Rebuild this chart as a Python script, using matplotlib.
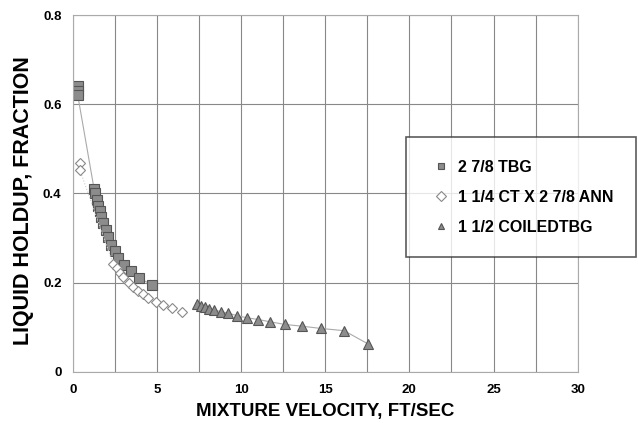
import matplotlib.pyplot as plt
from matplotlib.ticker import MultipleLocator

plt.rcParams['font.family'] = ['Liberation Sans', 'DejaVu Sans']
plt.rcParams['font.weight'] = 'bold'

# 2 7/8 TBG
tbg_x = [0.3, 0.3, 0.3, 1.27, 1.33, 1.42, 1.5, 1.6, 1.7, 1.82, 1.97, 2.12, 2.3, 2.5,
         2.72, 3.05, 3.45, 3.95, 4.7]
tbg_y = [0.64, 0.63, 0.62, 0.41, 0.40, 0.385, 0.372, 0.36, 0.347, 0.333, 0.318, 0.302,
         0.285, 0.27, 0.255, 0.24, 0.225, 0.21, 0.195]

# 1 1/4 CT X 2 7/8 ANN
ann_x = [0.43, 0.43, 2.41, 2.61, 2.81, 3.01, 3.36, 3.6, 3.9, 4.16, 4.49, 4.95, 5.38, 5.88, 6.48]
ann_y = [0.467, 0.452, 0.241, 0.232, 0.222, 0.213, 0.2, 0.19, 0.181, 0.174, 0.166, 0.157,
         0.15, 0.142, 0.133]

# 1 1/2 COILEDTBG
ctb_x = [7.4, 7.6, 7.86, 8.12, 8.4, 8.79, 9.25, 9.74, 10.34, 11.03, 11.72, 12.6, 13.64,
         14.75, 16.12, 17.56]
ctb_y = [0.152, 0.147, 0.144, 0.141, 0.138, 0.135, 0.131, 0.126, 0.121, 0.117, 0.112,
         0.106, 0.102, 0.097, 0.092, 0.062]

x_ticks = [0, 5, 10, 15, 20, 25, 30]
y_ticks = [0, 0.2, 0.4, 0.6, 0.8]
y_labels = ['0', '0.2', '0.4', '0.6', '0.8']

fig = plt.figure(figsize=(6.38, 4.23), dpi=100)
ax = fig.add_axes([72.7 / 638, 1 - 371.7 / 423, 505 / 638, 356.7 / 423])

ax.plot(tbg_x, tbg_y, color='#aaaaaa', lw=0.8, marker='s', ms=7,
        mfc='#8c8c8c', mec='#555555', mew=0.8, label='2 7/8 TBG')
ax.plot(ann_x, ann_y, color='#cccccc', lw=0.8, ls=':', marker='D', ms=5.5,
        mfc='white', mec='#888888', mew=0.8, label='1 1/4 CT X 2 7/8 ANN')
ax.plot(ctb_x, ctb_y, color='#aaaaaa', lw=0.8, marker='^', ms=7.5,
        mfc='#8c8c8c', mec='#555555', mew=0.8, label='1 1/2 COILEDTBG')

ax.set_xlim(0, 30)
ax.set_ylim(0, 0.8)
ax.set_xticks(x_ticks)
ax.xaxis.set_minor_locator(MultipleLocator(2.5))
ax.set_yticks(y_ticks)
ax.set_yticklabels(y_labels)
ax.grid(True, which='both', axis='x', color='#888888', lw=0.8)
ax.grid(True, which='major', axis='y', color='#888888', lw=0.8)
ax.set_axisbelow(True)
ax.tick_params(which='both', length=0, labelsize=9.5)
ax.tick_params(axis='x', pad=9)
ax.tick_params(axis='y', pad=8)
for s in ax.spines.values():
    s.set_color('#aaaaaa')
    s.set_linewidth(0.8)

fig.text(325 / 638, 1 - 411 / 423, 'MIXTURE VELOCITY, FT/SEC', fontsize=13.5,
         fontweight='bold', ha='center', va='center')
fig.text(24 / 638, 1 - 201 / 423, 'LIQUID HOLDUP, FRACTION', fontsize=15.5,
         fontweight='bold', ha='center', va='center', rotation=90)

leg = ax.legend(loc='upper left', bbox_to_anchor=(406 / 638, 1 - 137 / 423),
                bbox_transform=fig.transFigure, frameon=True, fancybox=False,
                prop={'size': 11.5, 'weight': 'bold'}, labelspacing=0.95,
                borderpad=1.41, handlelength=1.54, handletextpad=0.3,
                borderaxespad=0)
leg.get_frame().set_edgecolor('#333333')
leg.get_frame().set_linewidth(1.2)
for h in leg.legend_handles:
    h.set_linestyle('none')
    h.set_markersize(5)

fig.savefig('out.png', dpi=100)
